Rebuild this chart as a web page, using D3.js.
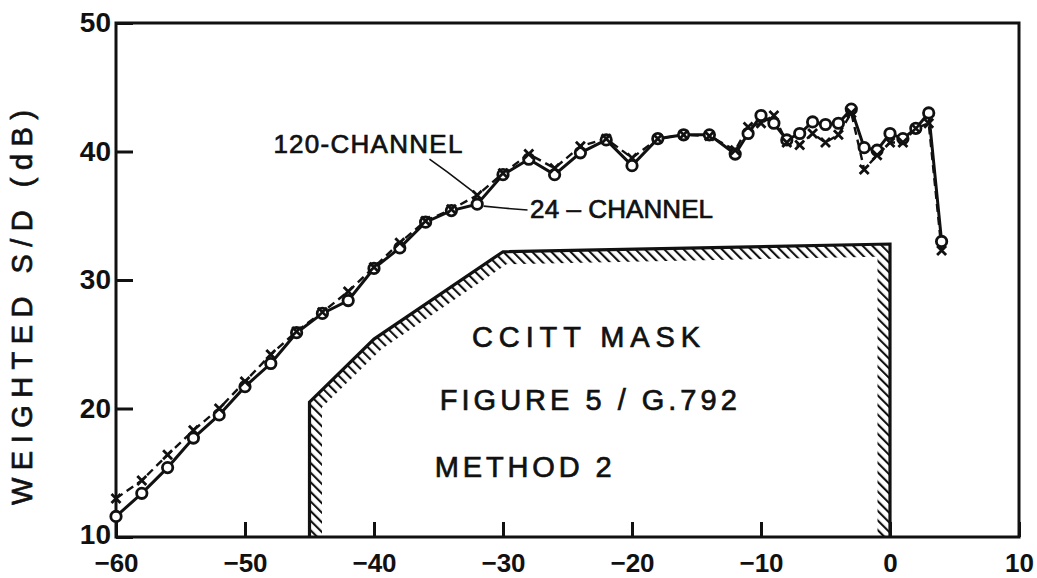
<!DOCTYPE html>
<html>
<head>
<meta charset="utf-8">
<script src="https://cdn.jsdelivr.net/npm/d3@7"></script>
<style>
  body { margin: 0; background: #fff; }
  svg { display: block; }
  text { font-family: "Liberation Sans", Arial, sans-serif; fill: #111; }
  .lbl { stroke: #111; stroke-width: 0.7px; }
</style>
</head>
<body>
<svg id="chart" width="1037" height="578"></svg>
<script>
const width = 1037;
const height = 578;

// input level (dBm0) at each measured point
const levels = [-60, -58, -56, -54, -52, -50, -48, -46, -44, -42, -40, -38, -36, -34, -32,
  -30, -28, -26, -24, -22, -20, -18, -16, -14, -12, -11, -10, -9, -8, -7, -6, -5, -4, -3,
  -2, -1, 0, 1, 2, 3, 4];

// 24-channel, circles, solid line
const sd24 = [11.6, 13.4, 15.4, 17.7, 19.5, 21.7, 23.5, 25.9, 27.4, 28.4, 30.9, 32.5, 34.5, 35.4, 35.9,
  38.2, 39.4, 38.2, 39.9, 40.9, 38.9, 41.0, 41.3, 41.3, 39.8, 41.4, 42.8, 42.2, 40.9, 41.4, 42.3, 42.1, 42.2, 43.3,
  40.3, 40.1, 41.4, 41.0, 41.8, 43.0, 33.0];

// 120-channel, crosses, dashed line
const sd120 = [13.0, 14.4, 16.4, 18.3, 20.0, 22.1, 24.2, 26.0, 27.5, 29.1, 31.0, 32.9, 34.6, 35.5, 36.6,
  38.3, 39.8, 38.7, 40.4, 41.0, 39.5, 41.0, 41.3, 41.2, 40.1, 41.9, 42.2, 42.8, 40.7, 40.5, 41.4, 40.7, 41.3, 43.0,
  38.6, 39.7, 40.7, 40.7, 41.8, 42.2, 32.3];

// CCITT mask outline
const maskX = [-45, -45, -40, -30, 0, 0];
const maskY = [10, 20.5, 25.4, 32.2, 32.8, 10];

const xTicks = [-60, -50, -40, -30, -20, -10, 0, 10];
const yTicks = [10, 20, 30, 40, 50];

const svg = d3.select("#chart");

const x = d3.scaleLinear().domain([-60, 10]).range([116, 1019]);
const y = d3.scaleLinear().domain([10, 50]).range([537, 23]);

// hatch pattern for the mask band
const defs = svg.append("defs");
defs.append("pattern")
    .attr("id", "hatch")
    .attr("patternUnits", "userSpaceOnUse")
    .attr("width", 6.8)
    .attr("height", 6.8)
    .attr("patternTransform", "rotate(-45)")
  .append("line")
    .attr("x1", 1).attr("y1", 0)
    .attr("x2", 1).attr("y2", 6.8)
    .attr("stroke", "#111")
    .attr("stroke-width", 2.2);

const maskPts = maskX.map((v, i) => [x(v), y(maskY[i])]);

defs.append("clipPath")
    .attr("id", "maskClip")
  .append("path")
    .attr("d", d3.line()(maskPts) + "Z");

const maskLine = d3.line();

svg.append("path")
    .attr("d", maskLine(maskPts))
    .attr("fill", "none")
    .attr("stroke", "url(#hatch)")
    .attr("stroke-width", 25)
    .attr("clip-path", "url(#maskClip)");

svg.append("path")
    .attr("d", maskLine(maskPts))
    .attr("fill", "none")
    .attr("stroke", "#111")
    .attr("stroke-width", 3.2);

// frame
svg.append("rect")
    .attr("x", x(-60)).attr("y", y(50))
    .attr("width", x(10) - x(-60)).attr("height", y(10) - y(50))
    .attr("fill", "none")
    .attr("stroke", "#111")
    .attr("stroke-width", 3);

// axes
const xAxis = svg.append("g")
    .attr("transform", `translate(0,${y(10)})`)
    .call(d3.axisBottom(x).tickValues(xTicks).tickSizeInner(-15).tickSizeOuter(0).tickPadding(10)
      .tickFormat(d => d < 0 ? "\u2212" + Math.abs(d) : d));
xAxis.select(".domain").remove();
xAxis.selectAll("line").attr("stroke", "#111").attr("stroke-width", 3);
xAxis.selectAll("text")
    .attr("dy", "0.95em")
    .style("font-size", "26px")
    .style("font-weight", "bold")
    .style("font-family", "'Liberation Sans', Arial, sans-serif")
    .attr("fill", "#111");

const yAxis = svg.append("g")
    .attr("transform", `translate(${x(-60)},0)`)
    .call(d3.axisLeft(y).tickValues(yTicks).tickSizeInner(-17).tickSizeOuter(0).tickPadding(5));
yAxis.select(".domain").remove();
yAxis.selectAll("line").attr("stroke", "#111").attr("stroke-width", 3);
yAxis.selectAll("text")
    .attr("x", -5)
    .attr("dy", d => d === 10 ? "0.22em" : "0.32em")
    .style("font-size", "28px")
    .style("font-weight", "bold")
    .style("font-family", "'Liberation Sans', Arial, sans-serif")
    .attr("fill", "#111");

svg.append("text")
    .attr("class", "lbl")
    .attr("transform", `translate(32,${(110 + 505) / 2}) rotate(-90)`)
    .attr("text-anchor", "middle")
    .attr("textLength", 395)
    .attr("lengthAdjust", "spacing")
    .style("font-size", "29px")
    .text("WEIGHTED  S/D  (dB)");

// curves
const line = d3.line().x(d => x(d[0])).y(d => y(d[1]));
const pts24 = levels.map((v, i) => [v, sd24[i]]);
const pts120 = levels.map((v, i) => [v, sd120[i]]);

svg.append("path")
    .attr("d", line(pts120))
    .attr("fill", "none")
    .attr("stroke", "#111")
    .attr("stroke-width", 2.4)
    .attr("stroke-dasharray", "8,5");

svg.append("path")
    .attr("d", line(pts24))
    .attr("fill", "none")
    .attr("stroke", "#111")
    .attr("stroke-width", 3);

svg.append("g")
  .selectAll("circle")
  .data(pts24)
  .join("circle")
    .attr("cx", d => x(d[0]))
    .attr("cy", d => y(d[1]))
    .attr("r", 5.2)
    .attr("fill", "#fff")
    .attr("stroke", "#111")
    .attr("stroke-width", 2.8);

const s = 4.5;
svg.append("g")
  .selectAll("path")
  .data(pts120)
  .join("path")
    .attr("d", d => {
      const cx = x(d[0]), cy = y(d[1]);
      return `M${cx - s},${cy - s}L${cx + s},${cy + s}M${cx - s},${cy + s}L${cx + s},${cy - s}`;
    })
    .attr("stroke", "#111")
    .attr("stroke-width", 2.8);

// curve labels with leaders
const leader120 = [[-35.7, 39.4], [-34.3, 38.4], [-32.3, 36.85]];
const leader24 = [[-31.5, 35.75], [-30.0, 35.6], [-28.1, 35.45]];

[leader120, leader24].forEach(l => {
  svg.append("path")
      .attr("d", line(l))
      .attr("fill", "none")
      .attr("stroke", "#111")
      .attr("stroke-width", 1.6);
});

svg.append("text")
    .attr("class", "lbl")
    .attr("x", x(-47.8)).attr("y", y(39.85))
    .attr("textLength", 189).attr("lengthAdjust", "spacing")
    .style("font-size", "26px")
    .text("120-CHANNEL");

svg.append("text")
    .attr("class", "lbl")
    .attr("x", x(-27.9)).attr("y", y(34.8))
    .attr("textLength", 183).attr("lengthAdjust", "spacing")
    .style("font-size", "26px")
    .text("24 \u2013 CHANNEL");

// mask captions
svg.append("text")
    .attr("class", "lbl")
    .attr("x", x(-32.4)).attr("y", y(24.8))
    .attr("textLength", 228).attr("lengthAdjust", "spacing")
    .style("font-size", "29px")
    .text("CCITT  MASK");

svg.append("text")
    .attr("class", "lbl")
    .attr("x", x(-34.9)).attr("y", y(19.9))
    .attr("textLength", 297).attr("lengthAdjust", "spacing")
    .style("font-size", "29px")
    .text("FIGURE 5 / G.792");

svg.append("text")
    .attr("class", "lbl")
    .attr("x", x(-35.3)).attr("y", y(14.7))
    .attr("textLength", 177).attr("lengthAdjust", "spacing")
    .style("font-size", "29px")
    .text("METHOD  2");
</script>
</body>
</html>
